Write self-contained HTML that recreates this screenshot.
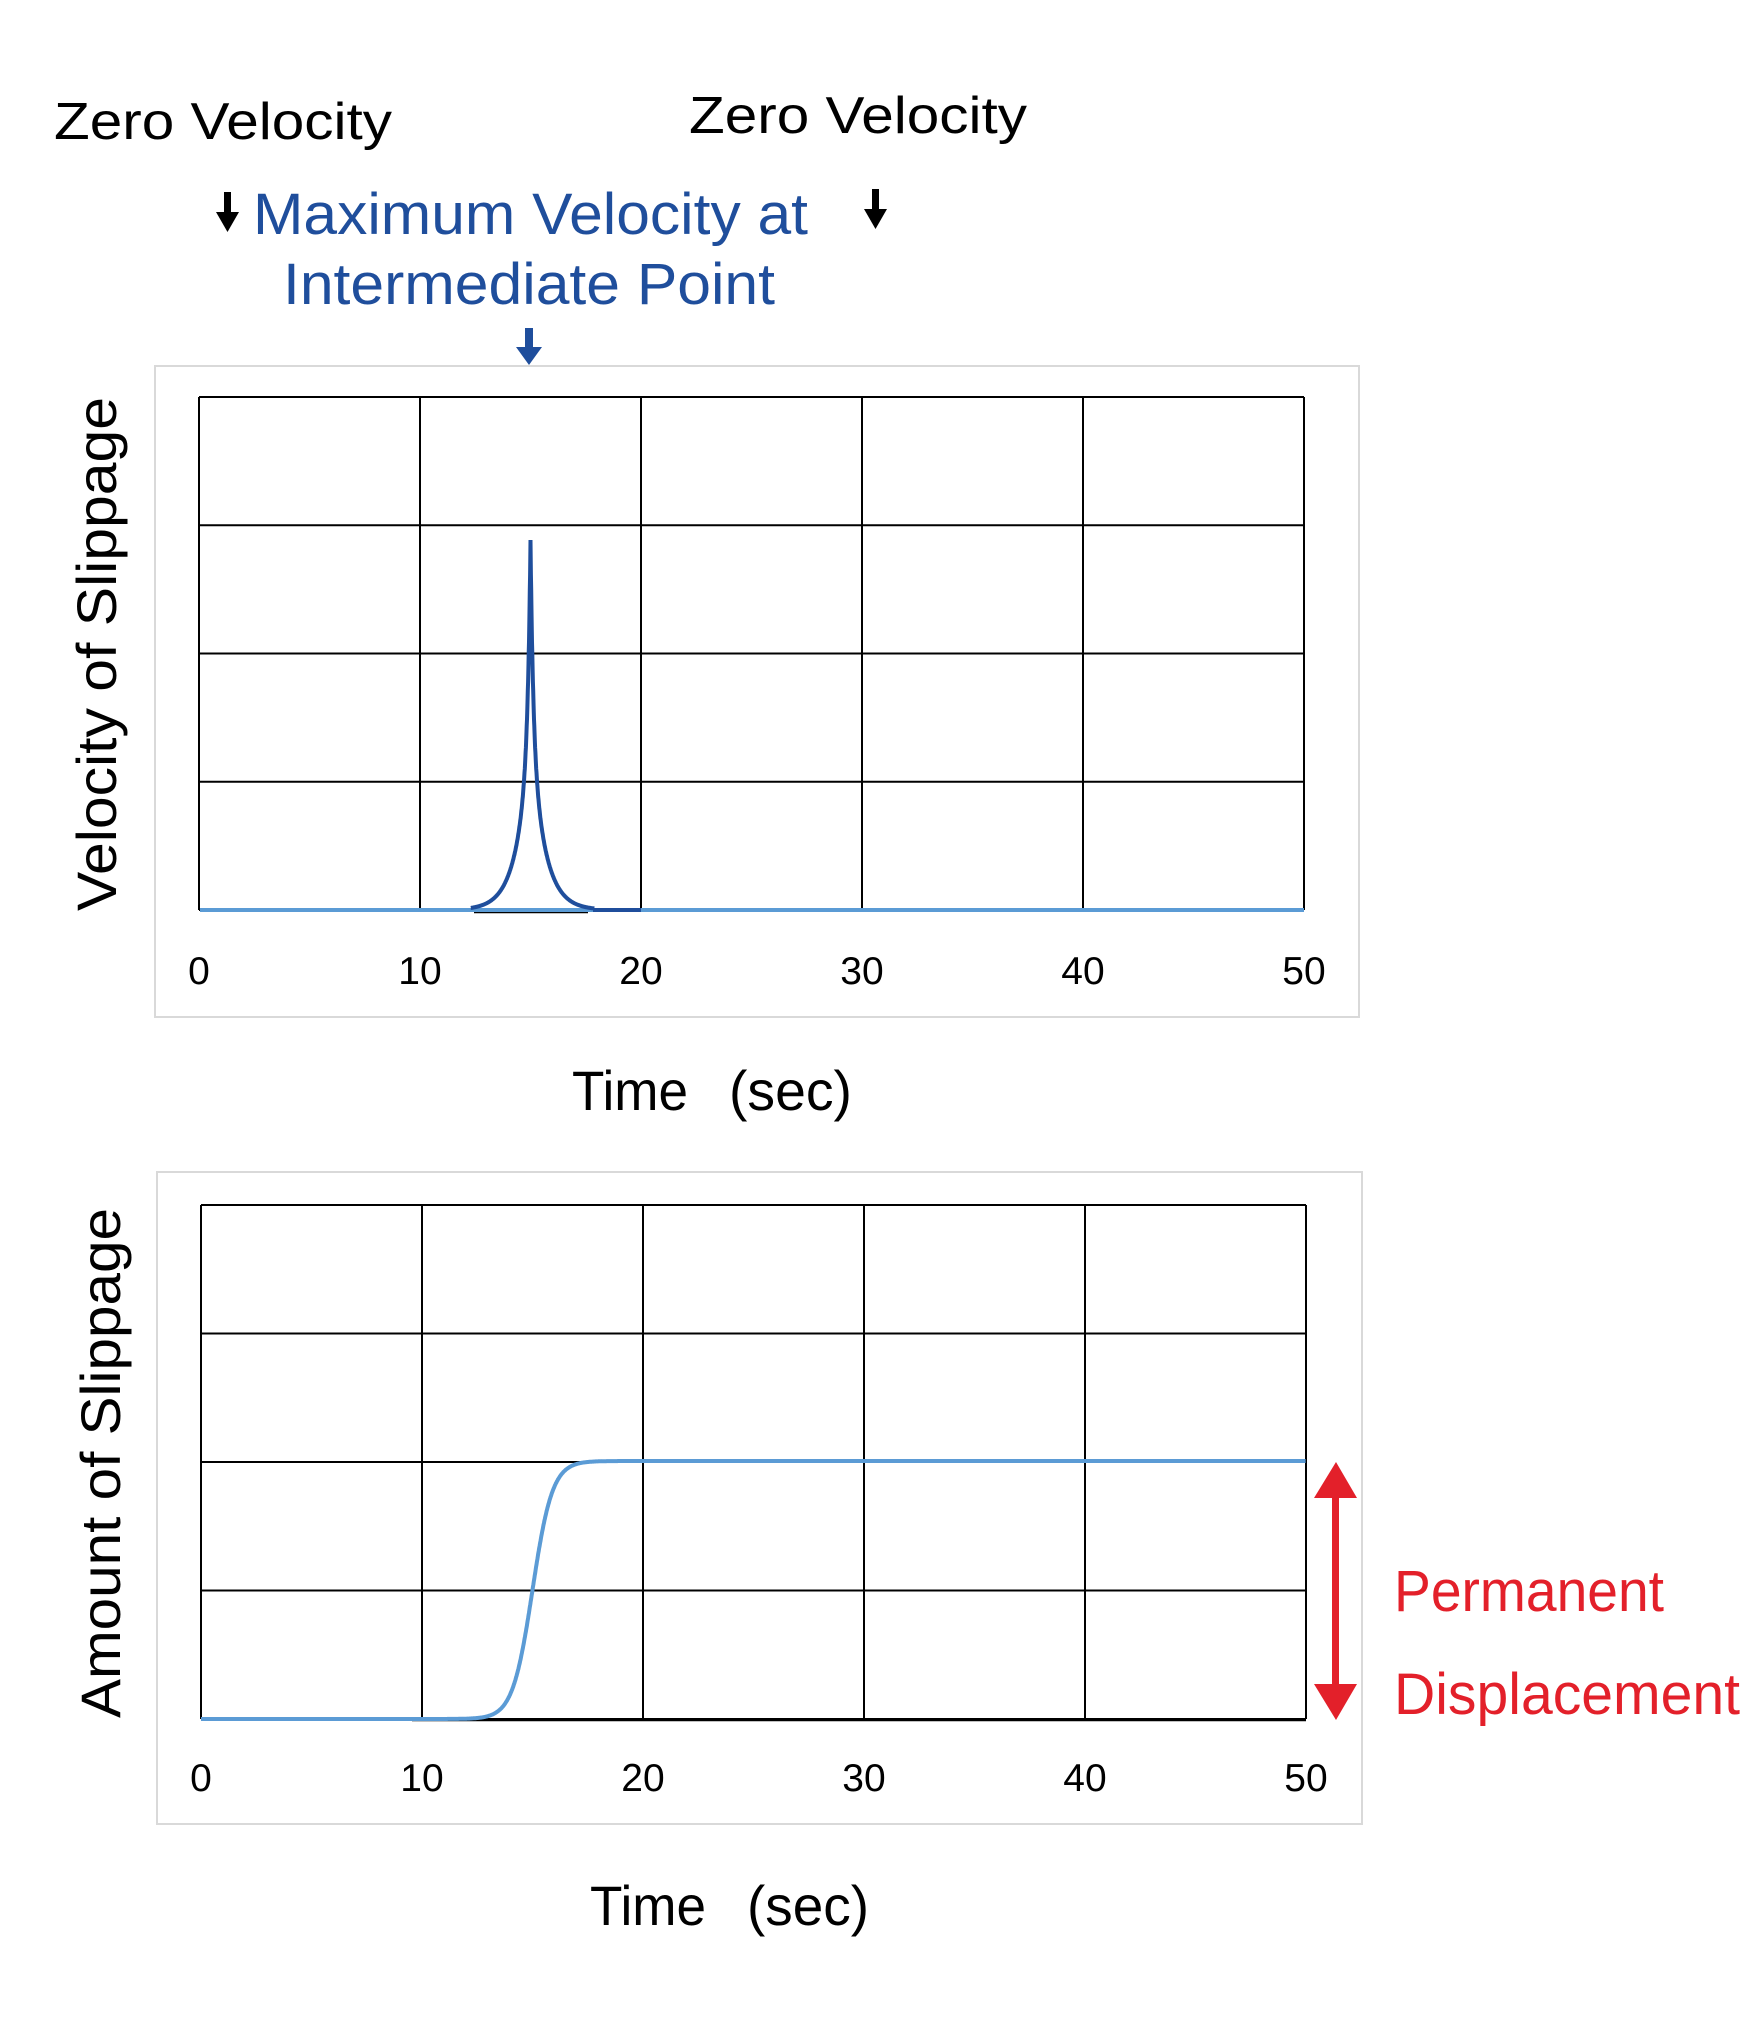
<!DOCTYPE html>
<html><head><meta charset="utf-8"><style>
body{margin:0;background:#fff;}
svg{display:block;}
text{font-family:"Liberation Sans","DejaVu Sans",sans-serif;}
</style></head><body>
<svg id="s" width="1763" height="2026" xmlns="http://www.w3.org/2000/svg">
<rect width="1763" height="2026" fill="#fff"/>
<text x="54" y="139" font-size="52" fill="#000" textLength="338" lengthAdjust="spacingAndGlyphs">Zero Velocity</text>
<text x="689" y="133" font-size="52" fill="#000" textLength="338" lengthAdjust="spacingAndGlyphs">Zero Velocity</text>
<text x="253" y="234" font-size="58" fill="#1f4e9c" textLength="555" lengthAdjust="spacingAndGlyphs">Maximum Velocity at</text>
<text x="283" y="304" font-size="58" fill="#1f4e9c" textLength="492" lengthAdjust="spacingAndGlyphs">Intermediate Point</text>
<g fill="#000">
<rect x="224" y="192" width="7" height="22"/><polygon points="216,212 239,212 227.5,232"/>
<rect x="872" y="189" width="7" height="22"/><polygon points="864,209 887,209 875.5,229"/>
</g>
<g fill="#1f4e9c"><rect x="525" y="328" width="8" height="22"/><polygon points="516,347 542,347 529,365"/></g>

<rect x="155" y="366" width="1204" height="651" fill="none" stroke="#d9d9d9" stroke-width="2"/>
<rect x="157" y="1172" width="1205" height="652" fill="none" stroke="#d9d9d9" stroke-width="2"/>
<g id="g1" stroke="#000" stroke-width="2" fill="none"></g>
<g id="g2" stroke="#000" stroke-width="2" fill="none"></g>
<line x1="474" y1="912" x2="588" y2="912" stroke="#000" stroke-width="2.5"/>
<line x1="200" y1="910" x2="1304" y2="910" stroke="#5b9bd5" stroke-width="4"/>
<line x1="593" y1="910" x2="641" y2="910" stroke="#1f4e9c" stroke-width="4"/>
<path id="p1" fill="none" stroke="#1f4e9c" stroke-width="4"/>
<line x1="412" y1="1720" x2="1306" y2="1720" stroke="#000" stroke-width="2.5"/>
<path id="p2" fill="none" stroke="#5b9bd5" stroke-width="4"/>

<g font-size="39" fill="#000" text-anchor="middle" id="t1"></g>
<g font-size="39" fill="#000" text-anchor="middle" id="t2"></g>
<text x="572" y="1110" font-size="56" textLength="116" lengthAdjust="spacingAndGlyphs">Time</text>
<text x="729" y="1110" font-size="56" textLength="123" lengthAdjust="spacingAndGlyphs">(sec)</text>
<text x="590" y="1925" font-size="56" textLength="116" lengthAdjust="spacingAndGlyphs">Time</text>
<text x="747" y="1925" font-size="56" textLength="122" lengthAdjust="spacingAndGlyphs">(sec)</text>
<text transform="translate(116,654) rotate(-90)" font-size="56" text-anchor="middle" textLength="514" lengthAdjust="spacingAndGlyphs">Velocity of Slippage</text>
<text transform="translate(120,1463) rotate(-90)" font-size="56" text-anchor="middle" textLength="510" lengthAdjust="spacingAndGlyphs">Amount of Slippage</text>

<g fill="#e3202a">
<rect x="1332" y="1495" width="7" height="192"/>
<polygon points="1314,1498 1357,1498 1336,1462"/>
<polygon points="1314,1684 1357,1684 1336,1720"/>
</g>
<text x="1394" y="1611" font-size="58" fill="#e3202a" textLength="270" lengthAdjust="spacingAndGlyphs">Permanent</text>
<text x="1394" y="1714" font-size="58" fill="#e3202a" textLength="346" lengthAdjust="spacingAndGlyphs">Displacement</text>
</svg>
<script>
var NS="http://www.w3.org/2000/svg";
function grid(id,x0,x1,y0,y1,tid,ty){
 var g=document.getElementById(id),t=document.getElementById(tid);
 for(var i=0;i<=5;i++){var x=x0+(x1-x0)*i/5;var l=document.createElementNS(NS,"line");
  l.setAttribute("x1",x);l.setAttribute("x2",x);l.setAttribute("y1",y0);l.setAttribute("y2",y1);g.appendChild(l);
  var tx=document.createElementNS(NS,"text");tx.setAttribute("x",x);tx.setAttribute("y",ty);tx.textContent=String(i*10);t.appendChild(tx);}
 for(var j=0;j<=4;j++){var y=y0+(y1-y0)*j/4;var l=document.createElementNS(NS,"line");
  l.setAttribute("x1",x0);l.setAttribute("x2",x1);l.setAttribute("y1",y);l.setAttribute("y2",y);g.appendChild(l);}
}
grid("g1",199,1304,397,910,"t1",984);
grid("g2",201,1306,1205,1719,"t2",1791);
var d="";
for(var t=12.3;t<=17.9;t+=0.01){var a=Math.abs(t-15);var f=0.5*Math.exp(-a/0.12)+0.5*Math.exp(-a/0.6);
 var x=199+t*22.1,y=910-370*f;d+=(d?"L":"M")+x.toFixed(1)+","+y.toFixed(1);}
document.getElementById("p1").setAttribute("d",d);
d="";
for(var t=0;t<=50;t+=0.02){var f=1/(1+Math.exp(-(t-15)/0.45));
 var x=201+t*22.1,y=1719-258*f;d+=(d?"L":"M")+x.toFixed(1)+","+y.toFixed(1);}
document.getElementById("p2").setAttribute("d",d);
</script>
</body></html>
